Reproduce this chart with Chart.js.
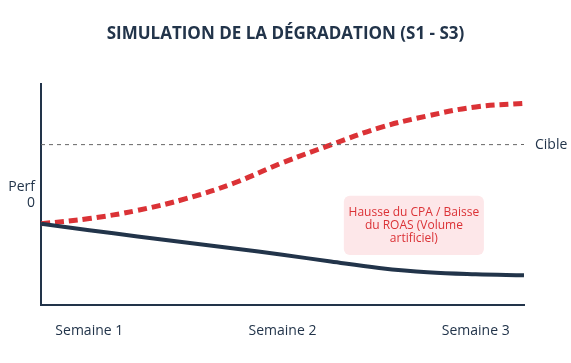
<!DOCTYPE html>
<html>
<head>
<meta charset="utf-8">
<script src="https://cdn.jsdelivr.net/npm/chart.js@4.4.1/dist/chart.umd.min.js"></script>
<style>
  html, body { margin: 0; padding: 0; background: #ffffff; }
  #wrap { width: 571px; height: 363px; }
</style>
</head>
<body>
<div id="wrap"><canvas id="chart"></canvas></div>
<script>
// semaines sur l'axe X (0 = début S1, 100 = fin S3)
var steps = [0, 10, 20, 30, 40, 50, 60, 70, 80, 90, 100];
var weekTicks = [10, 50, 90];
var weekLabels = ["Semaine 1", "Semaine 2", "Semaine 3"];

// courbe rouge : CPA qui grimpe
var cpaRise = [36.8, 39.2, 42.9, 48.2, 55.3, 64.5, 72.6, 80.3, 85.7, 89.8, 91.4];
// courbe bleue : performance réelle
var realPerf = [36.8, 33.9, 31.1, 28.3, 25.6, 22.8, 19.7, 16.8, 14.8, 13.9, 13.5];

var targetValue = 72.7;
var perfTick = 50;

var navy = "#22344a";
var red = "#db3236";
var fontFamily = "'Open Sans', 'Liberation Sans', sans-serif";

function toPoints(values) {
    return values.map(function (v, i) { return { x: steps[i], y: v }; });
}

// encadré rose avec le texte d'annotation
var noteBox = {
    id: "noteBox",
    afterDatasetsDraw: function (chart) {
        var ctx = chart.ctx;
        var xs = chart.scales.x, ys = chart.scales.y;
        var x1 = xs.getPixelForValue(62.7), x2 = xs.getPixelForValue(91.7);
        var y1 = ys.getPixelForValue(49.5), y2 = ys.getPixelForValue(22.7);
        ctx.save();
        ctx.fillStyle = "#fde7e9";
        ctx.beginPath();
        ctx.roundRect(x1, y1, x2 - x1, y2 - y1, 6);
        ctx.fill();
        ctx.fillStyle = red;
        ctx.font = "500 12px " + fontFamily;
        ctx.textAlign = "center";
        ctx.textBaseline = "middle";
        var lines = ["Hausse du CPA / Baisse", "du ROAS (Volume", "artificiel)"];
        var cx = (x1 + x2) / 2, cy = (y1 + y2) / 2;
        lines.forEach(function (t, i) {
            ctx.fillText(t, cx, cy + (i - 1) * 13);
        });
        ctx.restore();
    }
};

new Chart(document.getElementById("chart"), {
    type: "line",
    data: {
        datasets: [
            {
                label: "Cible",
                data: [{ x: 0, y: targetValue }, { x: 100, y: targetValue }],
                borderColor: "#666666",
                borderWidth: 1,
                borderDash: [4, 4],
                pointRadius: 0
            },
            {
                label: "Perf réelle",
                data: toPoints(realPerf),
                borderColor: navy,
                borderWidth: 4,
                pointRadius: 0,
                tension: 0.4
            },
            {
                label: "CPA",
                data: toPoints(cpaRise),
                borderColor: red,
                borderWidth: 5,
                borderDash: [9, 5],
                pointRadius: 0,
                tension: 0.4
            }
        ]
    },
    options: {
        responsive: true,
        maintainAspectRatio: false,
        animation: false,
        layout: { padding: 0 },
        plugins: {
            legend: { display: false },
            tooltip: { enabled: false },
            title: {
                display: true,
                text: "SIMULATION DE LA DÉGRADATION (S1 - S3)",
                color: navy,
                font: { family: fontFamily, size: 17, weight: "bold" },
                padding: { top: 24, bottom: 40 }
            }
        },
        scales: {
            x: {
                type: "linear",
                min: 0,
                max: 100,
                grid: { display: false, drawTicks: false },
                border: { display: true, color: navy, width: 2 },
                afterBuildTicks: function (axis) {
                    axis.ticks = weekTicks.map(function (v) { return { value: v }; });
                },
                afterFit: function (axis) { axis.height = 58; },
                ticks: {
                    padding: 18,
                    maxRotation: 0,
                    color: navy,
                    font: { family: fontFamily, size: 14, weight: "500" },
                    callback: function (v) {
                        var i = weekTicks.indexOf(v);
                        return i >= 0 ? weekLabels[i] : "";
                    }
                }
            },
            y: {
                min: 0,
                max: 100,
                grid: { display: false, drawTicks: false },
                border: { display: true, color: navy, width: 2 },
                afterBuildTicks: function (axis) {
                    axis.ticks = [{ value: perfTick }];
                },
                afterFit: function (axis) { axis.width = 41; },
                ticks: {
                    padding: 6,
                    color: navy,
                    font: { family: fontFamily, size: 14, weight: "500", lineHeight: 1.15 },
                    callback: function () { return ["Perf", "0"]; }
                }
            },
            cible: {
                position: "right",
                min: 0,
                max: 100,
                grid: { display: false, drawTicks: false },
                border: { display: false },
                afterBuildTicks: function (axis) {
                    axis.ticks = [{ value: targetValue }];
                },
                afterFit: function (axis) { axis.width = 47; },
                ticks: {
                    padding: 11,
                    color: navy,
                    font: { family: fontFamily, size: 14, weight: "500" },
                    callback: function () { return "Cible"; }
                }
            }
        }
    },
    plugins: [noteBox]
});
</script>
</body>
</html>
